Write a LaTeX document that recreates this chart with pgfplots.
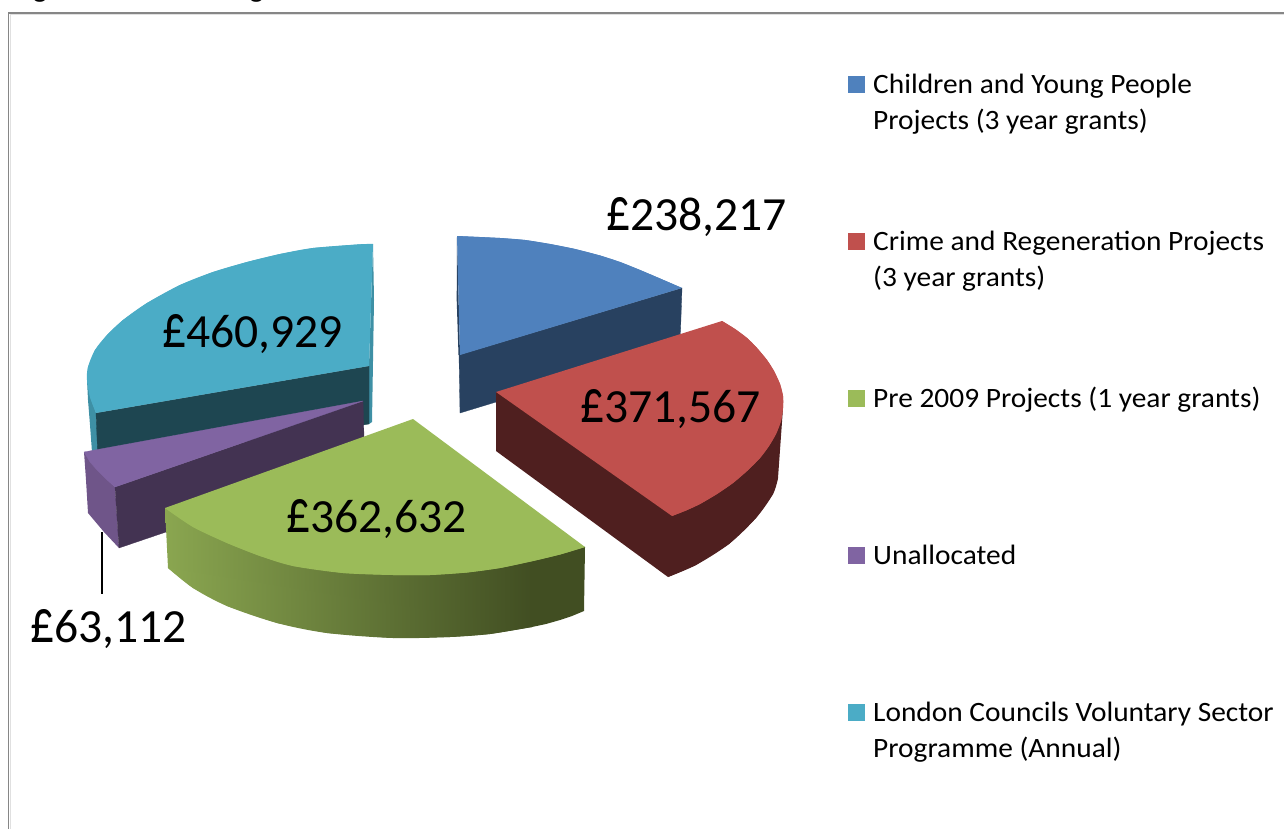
\documentclass[border=0pt]{standalone}
\usepackage{fontspec}
\setmainfont{Carlito}
\newfontfamily\legf[FakeStretch=1.05]{Carlito}
\usepackage{pgfplots}
\pgfplotsset{compat=1.18}
\definecolor{cblue}{HTML}{4F81BD}
\definecolor{cbluedk}{HTML}{284160}
\definecolor{cred}{HTML}{C0504D}
\definecolor{creddk}{HTML}{4F1F1F}
\definecolor{cgreen}{HTML}{9BBB59}
\definecolor{cgreenl}{HTML}{8AA650}
\definecolor{cgreenm}{HTML}{667A3B}
\definecolor{cgreend}{HTML}{414E22}
\definecolor{cpurple}{HTML}{8064A2}
\definecolor{cpurpledk}{HTML}{433352}
\definecolor{cpurplemd}{HTML}{6F5589}
\definecolor{cteal}{HTML}{4BACC6}
\definecolor{ctealdk}{HTML}{1E4651}
\definecolor{ctealmd}{HTML}{3E90A5}
\definecolor{cframe}{HTML}{868686}
\newcommand{\biglab}[1]{\fontsize{47.6}{50}\selectfont\scalebox{1}[1.3]{£}#1}
\newcommand{\leg}{\legf\fontsize{28}{36}\selectfont}
\begin{document}
\begin{tikzpicture}
\path[use as bounding box] (0,0) rectangle (1284pt,829pt);
\begin{axis}[at={(0,0)},anchor=south west,scale only axis,width=1284pt,height=829pt,
  xmin=0,xmax=1284,ymin=0,ymax=829,y dir=reverse,hide axis,clip=true]
% frame
\addplot[draw=cframe,line width=1.6pt] coordinates {(8.5,829)(8.5,13)(1284,13)};
\addplot[draw=black!12,line width=1pt] coordinates {(10,829)(10,14.5)(1284,14.5)};
% teal slice
\addplot[fill=ctealmd,draw=none] coordinates {(373,244)(374,300)(372,422)(369,424)(369,366)} -- cycle;
\addplot[fill=ctealmd,draw=none] coordinates {(87,380)(88,400)(90,425)(92,452)(99,452)(96,413)} -- cycle;
\addplot[fill=ctealdk,draw=ctealdk,line width=.3pt] coordinates {(96,413)(369,366)(369,424)(363,425)(98,462)} -- cycle;
\addplot[fill=cteal,draw=none] coordinates {(373,244)(360,244.3)(313,248)(280,254)(247,262)(213,272)(180,285)(147,303)(123,320)(107,335)(95,350)(88,367)(87,380)(90,397)(96,413)(369,366)} -- cycle;
\addplot[smooth,fill=cteal,draw=none] coordinates {(373,244)(360,244.3)(313,248)(280,254)(247,262)(213,272)(180,285)(147,303)(123,320)(107,335)(95,350)(88,367)(87,380)(90,397)(96,413)} -- cycle;
% purple slice
\addplot[fill=cpurplemd,draw=none] coordinates {(84,452)(97,468)(115,487)(119,548)(104,532)(88,513)(86,480)} -- cycle;
\addplot[fill=cpurpledk,draw=cpurpledk,line width=.3pt] coordinates {(115,487)(363,401)(364,437)(166,532)(119,548)} -- cycle;
\addplot[fill=cpurple,draw=cpurple,line width=.3pt] coordinates {(363,401)(84,452)(90,462)(97,470)(106,479)(115,487)} -- cycle;
% leader line
\addplot[draw=black,line width=1.3pt] coordinates {(102,532)(102,594)};
% blue slice
\addplot[fill=cbluedk,draw=cbluedk,line width=.3pt] coordinates {(682,288)(680,346)(460,413)(459,355)} -- cycle;
\addplot[fill=cbluedk,draw=none] coordinates {(457,236)(456.7,300)(458.5,355)(460,355)} -- cycle;
\addplot[fill=cblue,draw=none] coordinates {(457,236)(500,238)(525,240)(550,244)(575,249)(600,255.5)(620,262)(640,270)(660,278.5)(682,288)(460,355)} -- cycle;
\addplot[smooth,fill=cblue,draw=none] coordinates {(457,236)(500,238)(525,240)(550,244)(575,249)(600,255.5)(620,262)(640,270)(660,278.5)(682,288)} -- cycle;
% red slice
\addplot[fill=creddk,draw=none] coordinates {(496,392)(496,451)(668,577)(696,565)(729,544)(756,518)(773,494)(778,478)(783,408)} -- cycle;
\addplot[smooth,fill=creddk,draw=none] coordinates {(668,577)(696,565)(729,544)(756,518)(773,494)(778,478)} -- cycle;
\addplot[fill=cred,draw=none] coordinates {(496,392)(722,321)(735,329)(747,338)(757,348)(767,360)(774,371)(780,384)(783,396)(783,408)(781,421)(776,434)(769,446)(760,458)(747,471)(733,483)(717,494)(700,504)(686,510.5)(672,516)} -- cycle;
\addplot[smooth,fill=cred,draw=none] coordinates {(722,321)(735,329)(747,338)(757,348)(767,360)(774,371)(780,384)(783,396)(783,408)(781,421)(776,434)(769,446)(760,458)(747,471)(733,483)(717,494)(700,504)(686,510.5)(672,516)} -- cycle;
% green slice
\addplot[draw=none,left color=cgreenl,middle color=cgreenm,right color=cgreend] coordinates {(165,508)(168,568)(193,588)(227,606)(277,623)(327,633)(393,638)(450,637)(490,634)(532,627)(532,540)(400,540)} -- cycle;
\addplot[smooth,draw=none,left color=cgreenl,middle color=cgreenm,right color=cgreend] coordinates {(168,568)(193,588)(227,606)(277,623)(327,633)(393,638)(450,637)(490,634)(532,627)} -- cycle;
\addplot[fill=cgreend,draw=none] coordinates {(531,540)(585,547)(584,611)(572,616)(560,620)(546,624)(531,627.2)} -- cycle;
\addplot[fill=cgreen,draw=none] coordinates {(413,419)(165,508)(193,527)(227,543)(260,556)(293,566)(343,573)(393,575)(430,575)(467,572.5)(500,568)(533,561)(560,554.5)(585,547)} -- cycle;
\addplot[smooth,fill=cgreen,draw=none] coordinates {(165,508)(193,527)(227,543)(260,556)(293,566)(343,573)(393,575)(430,575)(467,572.5)(500,568)(533,561)(560,554.5)(585,547)} -- cycle;
% data labels
\node[anchor=base west,inner sep=0pt] at (axis cs:606,230.5) {\biglab{238,217}};
\node[anchor=base west,inner sep=0pt] at (axis cs:162,347.3) {\biglab{460,929}};
\node[anchor=base west,inner sep=0pt] at (axis cs:580,422) {\biglab{371,567}};
\node[anchor=base west,inner sep=0pt] at (axis cs:286,532) {\biglab{362,632}};
\node[anchor=base west,inner sep=0pt] at (axis cs:30,642) {\biglab{63,112}};
% legend keys
\addplot[fill=cblue,draw=none] coordinates {(848,76)(865,76)(865,93)(848,93)} -- cycle;
\addplot[fill=cred,draw=none] coordinates {(848,233)(865,233)(865,250)(848,250)} -- cycle;
\addplot[fill=cgreen,draw=none] coordinates {(848,390)(865,390)(865,407)(848,407)} -- cycle;
\addplot[fill=cpurple,draw=none] coordinates {(848,547)(865,547)(865,564)(848,564)} -- cycle;
\addplot[fill=cteal,draw=none] coordinates {(848,704)(865,704)(865,721)(848,721)} -- cycle;
% legend text
\node[anchor=base west,inner sep=0pt] at (axis cs:873,93.7) {\leg Children and Young People};
\node[anchor=base west,inner sep=0pt] at (axis cs:873,129.7) {\leg Projects (3 year grants)};
\node[anchor=base west,inner sep=0pt] at (axis cs:873,250.5) {\leg Crime and Regeneration Projects};
\node[anchor=base west,inner sep=0pt] at (axis cs:873,286.5) {\leg (3 year grants)};
\node[anchor=base west,inner sep=0pt] at (axis cs:873,407.5) {\leg Pre 2009 Projects (1 year grants)};
\node[anchor=base west,inner sep=0pt] at (axis cs:873,564.5) {\leg Unallocated};
\node[anchor=base west,inner sep=0pt] at (axis cs:873,721.5) {\leg London Councils Voluntary Sector};
\node[anchor=base west,inner sep=0pt] at (axis cs:873,757.5) {\leg Programme (Annual)};
% clipped caption above the chart: only descenders remain visible
\node[anchor=base west,inner sep=0pt] at (axis cs:33,-2) {\leg g};
\node[anchor=base west,inner sep=0pt] at (axis cs:249.5,-2) {\leg g};
\end{axis}
\end{tikzpicture}
\end{document}
